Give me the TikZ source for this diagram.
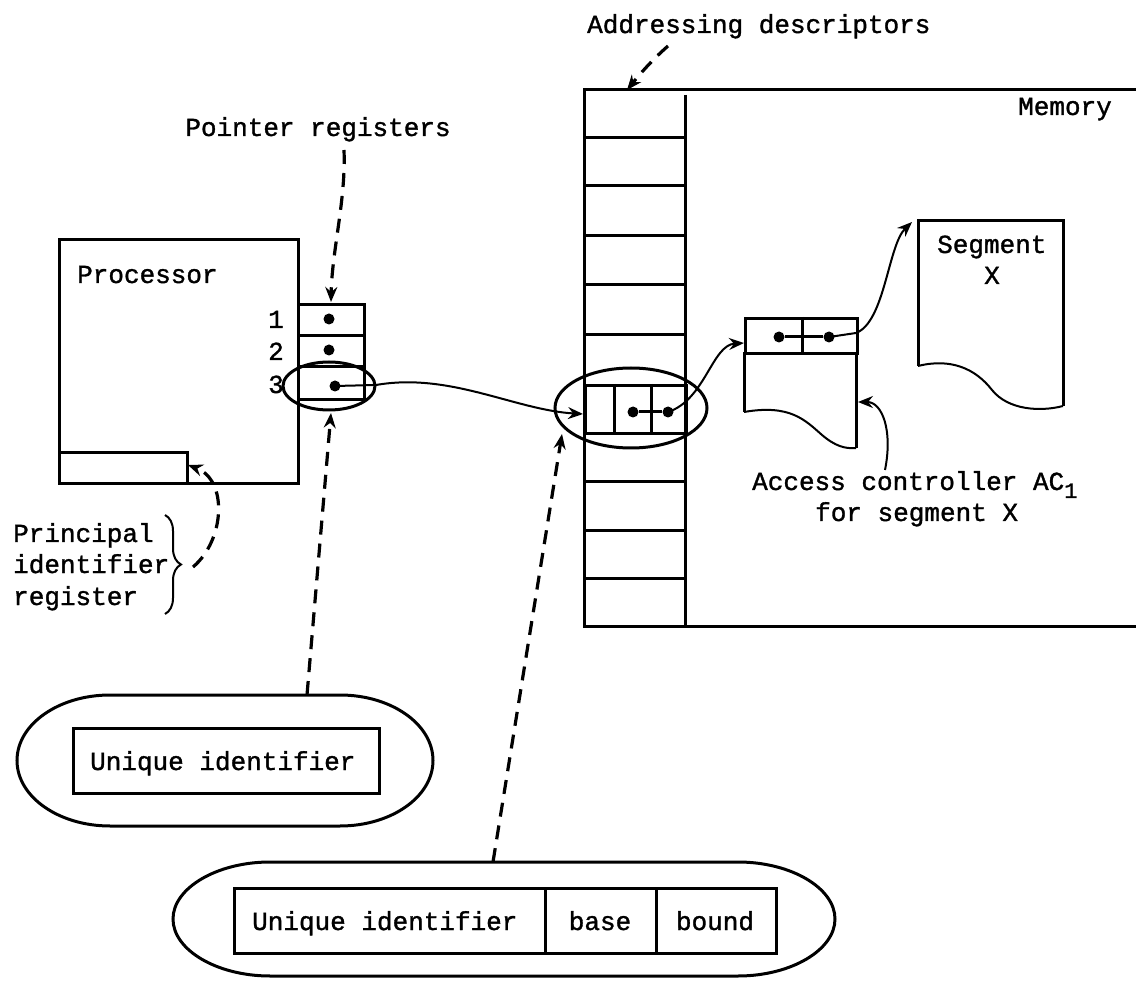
\documentclass[tikz,border=0pt]{standalone}
\usepackage{fontspec}
\setmonofont[FakeBold=1.3]{Liberation Mono}
\usetikzlibrary{arrows.meta,shapes.geometric,decorations.pathreplacing}
\begin{document}
\begin{tikzpicture}[x=1pt,y=-1pt,
  every node/.style={font=\ttfamily\fontsize{26}{30}\selectfont},
  txt/.style={anchor=base west,inner sep=0pt},
  ctxt/.style={anchor=base,inner sep=0pt},
  ln/.style={line width=3pt},
  thinln/.style={line width=2pt},
  dsh/.style={line width=3.2pt,dash pattern=on 14pt off 9pt},
  tip/.style={-{Stealth[length=15pt,width=12pt,inset=5pt]}},
  dotc/.style={circle,fill=black,inner sep=0pt,minimum size=11pt},
  oval/.style={draw,ellipse,line width=3pt,inner sep=0pt},
  cell/.style={draw,line width=2.8pt,inner sep=0pt,anchor=north west},
]
\fill[white] (0,0) rectangle (1136,981);
\useasboundingbox (0,0) rectangle (1136,981);

% ---------- texts ----------
\node[txt] (addr) at (587,33) {Addressing descriptors};
\node[ctxt] (mem) at (1065,115) {Memory};
\node[ctxt] (ptr) at (318,136) {Pointer registers};
\node[txt] (proctxt) at (77,283) {Processor};
\node[txt] (l1) at (268,328) {1};
\node[txt] (l2) at (268,360) {2};
\node[txt] (l3) at (268,393) {3};
\node[txt] (seg1) at (937,253) {Segment};
\node[ctxt] (seg2) at (992,284) {X};
\node[txt] (ac1) at (752,490) {Access controller AC\raisebox{-8pt}{\fontsize{22}{22}\selectfont 1}};
\node[txt] (ac2) at (815,521) {for segment X};
\node[txt] (pi1) at (13,542) {Principal};
\node[txt] (pi2) at (13,573) {identifier};
\node[txt] (pi3) at (13,605) {register};

% ---------- memory ----------
\coordinate (mtop) at (627,90);
\draw[ln] (1136,90) -- (584,90) -- (584,626) -- (1136,626);
\draw[ln] (685,95) -- (685,626);
\foreach \yy in {138,186,236,285,335,482,531,578}
  \draw[ln] (584,\yy) -- (685,\yy);
\node[cell,minimum width=101pt,minimum height=48pt] (entry) at (584,384) {};
\draw[ln] (614,384) -- (614,432);
\draw[ln] (651,384) -- (651,432);
\node[dotc] (e1) at (633,412) {};
\node[dotc] (e2) at (668,412) {};
\draw[ln] (e1) -- (e2);
\node[oval,minimum width=152pt,minimum height=80pt] (entryov) at (631,408) {};
\coordinate (entin) at (583,414);
\coordinate (entbot) at (562,434);

% ---------- processor ----------
\node[cell,minimum width=239pt,minimum height=244pt] (proc) at (58,238) {};
\node[cell,minimum width=128pt,minimum height=31pt] (pir) at (58,451) {};
\coordinate (pircorner) at (188,465);

% ---------- pointer registers ----------
\node[cell,minimum width=66pt,minimum height=31pt] (r1) at (297,303) {};
\node[cell,minimum width=66pt,minimum height=31pt] (r2) at (297,334) {};
\node[cell,minimum width=66pt,minimum height=33pt] (r3) at (297,365) {};
\node[dotc] (r1d) at (329,319) {};
\node[dotc] (r2d) at (329,350) {};
\node[dotc] (r3d) at (335,386) {};
\node[oval,minimum width=92pt,minimum height=48pt] (r3ov) at (329,386) {};
\coordinate (rtop) at (331,302);
\coordinate (r3bot) at (331,413);

% ---------- access controller ----------
\node[cell,minimum width=112pt,minimum height=35pt] (acrow) at (744,317) {};
\draw[ln] (802,317) -- (802,352);
\draw[ln] (744,352) -- (744,412);
\draw[ln] (856,352) -- (856,448);
\draw[thinln] (744,412) .. controls (790,404) and (805,420) .. (822,435)
   .. controls (835,446) and (845,449) .. (856,448);
\node[dotc] (a1) at (779,337) {};
\node[dotc] (a2) at (829,337) {};
\draw[ln] (a1) -- (a2);
\coordinate (acin) at (744,343);
\coordinate (acside) at (858,402);
\coordinate (acsrc) at (885,470);

% ---------- segment X ----------
\draw[ln] (918,366) -- (918,221) -- (1063,221) -- (1063,406);
\draw[thinln] (918,366) .. controls (950,358) and (975,368) .. (992,390)
   .. controls (1008,410) and (1040,412) .. (1063,406);
\coordinate (segtl) at (912,222);

% ---------- small capability ----------
\node[cell,minimum width=306pt,minimum height=65pt] (uibox) at (72,727) {};
\node[txt] (uitxt) at (90,770) {Unique identifier};
\draw[ln] (110,695) -- (340,695) .. controls (391,695) and (433,724) .. (433,760.5)
  .. controls (433,797) and (391,826) .. (340,826) -- (110,826)
  .. controls (59,826) and (17,797) .. (17,760.5)
  .. controls (17,724) and (59,695) .. cycle;
\coordinate (smalltop) at (307,695);

% ---------- big descriptor ----------
\node[cell,minimum width=311pt,minimum height=65pt] (bui) at (233,887) {};
\node[cell,minimum width=111pt,minimum height=65pt] (bbase) at (544,887) {};
\node[cell,minimum width=120pt,minimum height=65pt] (bbound) at (655,887) {};
\node[txt] (buitxt) at (252,930) {Unique identifier};
\node[ctxt] (bbasetxt) at (600,930) {base};
\node[ctxt] (bboundtxt) at (715,930) {bound};
\draw[ln] (270,862) -- (738,862) .. controls (791,862) and (835,888) .. (835,919)
  .. controls (835,950) and (791,976) .. (738,976) -- (270,976)
  .. controls (217,976) and (173,950) .. (173,919)
  .. controls (173,888) and (217,862) .. cycle;
\coordinate (bigtop) at (493,862);

% ---------- brace ----------
\draw[thinln,decorate,decoration={brace,amplitude=16pt}] (165,515) -- (165,614);
\coordinate (bracetip) at (193,567);

% ---------- connectors ----------
\draw[thinln,tip] (r3d.center) -- (376,385) .. controls (450,372) and (515,410) .. (entin);
\draw[thinln,tip] (e2.center) .. controls (705,400) and (712,345) .. (acin);
\draw[thinln,tip] (a2.center) -- (856,333) .. controls (885,322) and (888,245) .. (segtl);
\draw[thinln,tip] (acsrc) .. controls (893,430) and (882,402) .. (acside);

\coordinate (addrsrc) at (668,46);
\coordinate (ptrsrc) at (344,150);
\draw[dsh,tip] (addrsrc) .. controls (652,60) and (640,74) .. (mtop);
\draw[dsh,tip] (ptrsrc) .. controls (346,200) and (332,250) .. (rtop);
\draw[dsh,tip] (bracetip) .. controls (225,540) and (228,480) .. (pircorner);
\draw[dsh,tip] (smalltop) -- (r3bot);
\draw[dsh,tip] (bigtop) -- (entbot);
\end{tikzpicture}
\end{document}
